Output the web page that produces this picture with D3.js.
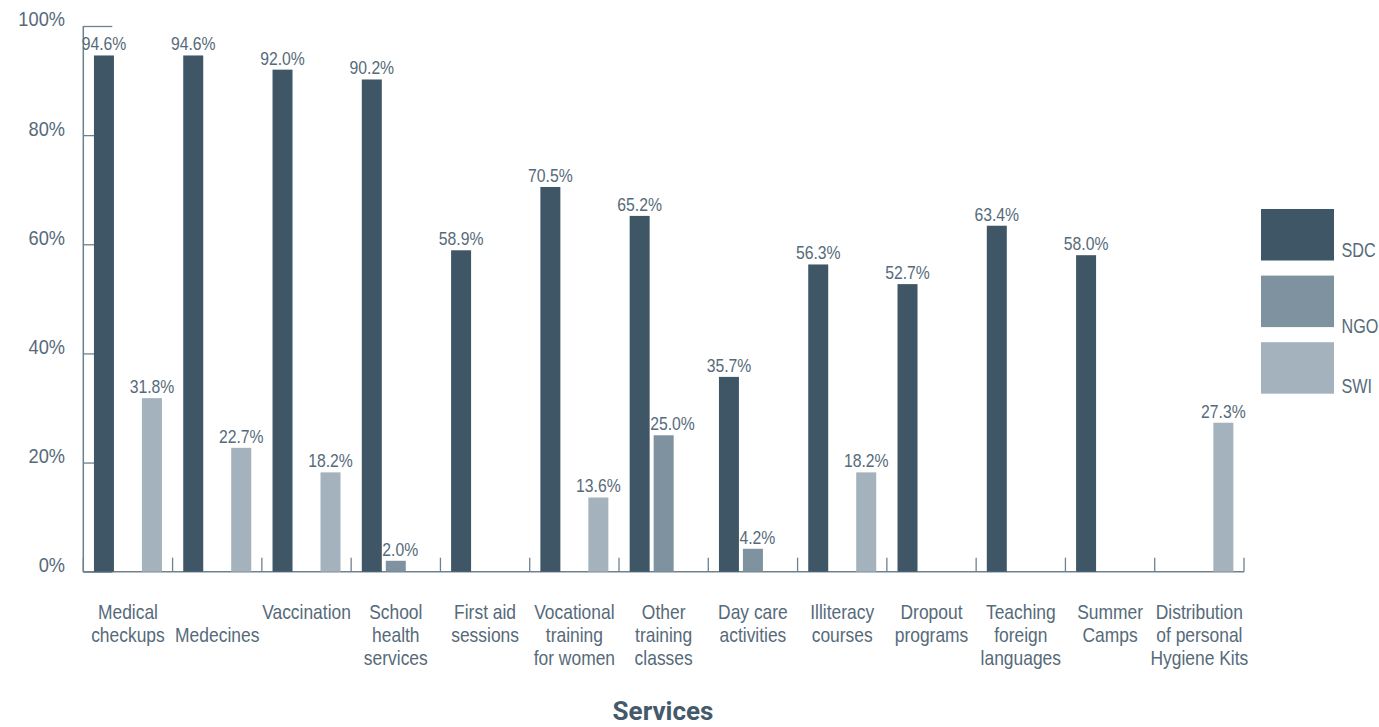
<!DOCTYPE html>
<html>
<head>
<meta charset="utf-8">
<script src="https://cdn.jsdelivr.net/npm/d3@7/dist/d3.min.js"></script>
<style>
  html, body { margin: 0; padding: 0; background: #fff; }
  svg { display: block; }
  .cond { font-family: "Liberation Sans", Arial, sans-serif; }
</style>
</head>
<body>
<svg id="chart" width="1379" height="727"></svg>
<script>
// Services offered, share by provider
const categories = [
  ["Medical", "checkups"],
  ["", "Medecines"],
  ["Vaccination"],
  ["School", "health", "services"],
  ["First aid", "sessions"],
  ["Vocational", "training", "for women"],
  ["Other", "training", "classes"],
  ["Day care", "activities"],
  ["Illiteracy", "courses"],
  ["Dropout", "programs"],
  ["Teaching", "foreign", "languages"],
  ["Summer", "Camps"],
  ["Distribution", "of personal", "Hygiene Kits"]
];
const seriesNames = ["SDC", "NGO", "SWI"];
const sdcValues = [94.6, 94.6, 92.0, 90.2, 58.9, 70.5, 65.2, 35.7, 56.3, 52.7, 63.4, 58.0, null];
const ngoValues = [null, null, null, 2.0, null, null, 25.0, 4.2, null, null, null, null, null];
const swiValues = [31.8, 22.7, 18.2, null, null, 13.6, null, null, 18.2, null, null, null, 27.3];
const yTicks = [0, 20, 40, 60, 80, 100];
const axisTitle = "Services";

const seriesValues = [sdcValues, ngoValues, swiValues];
const colors = ["#3f5667", "#7f929f", "#a3b2bc"];
const textColor = "#566a79";
const axisColor = "#6e818e";

const svg = d3.select("#chart");
const plotLeft = 83.3, plotRight = 1244, plotTop = 26, plotBottom = 571.7;

// narrow text: regular sans squeezed horizontally
const place = (x, y, sx) => `translate(${x},${y}) scale(${sx},1)`;

const x0 = d3.scaleBand().domain(d3.range(categories.length)).range([plotLeft, plotRight]).padding(0);
const x1 = d3.scaleBand().domain(seriesNames).range([0, x0.bandwidth()])
  .paddingInner(4 / 24).paddingOuter(0.444);
const y = d3.scaleLinear().domain([0, 100]).range([plotBottom, plotTop]);

// y axis: inward ticks, labels sit slightly above each tick
const yAxis = svg.append("g").attr("transform", `translate(${plotLeft},0)`)
  .call(d3.axisRight(y).tickValues(yTicks).tickSize(29).tickFormat(""));
yAxis.select(".domain").remove();
yAxis.selectAll("line").attr("stroke", axisColor).attr("stroke-width", 1.3);
svg.append("line").attr("x1", plotLeft).attr("x2", plotLeft).attr("y1", plotTop).attr("y2", plotBottom)
  .attr("stroke", axisColor).attr("stroke-width", 1.5);

svg.append("g").selectAll("text").data(yTicks).join("text")
  .attr("class", "cond")
  .attr("transform", d => place(65, y(d) - 7, 0.89)).attr("dy", "0.36em")
  .attr("text-anchor", "end").attr("font-size", 20.5).attr("fill", textColor)
  .text(d => d + "%");

// x axis baseline with upward ticks at category boundaries
const boundaries = d3.range(categories.length + 1).map(i => plotLeft + i * x0.step());
svg.append("line").attr("x1", plotLeft).attr("x2", plotRight).attr("y1", plotBottom).attr("y2", plotBottom)
  .attr("stroke", axisColor).attr("stroke-width", 1.5);
svg.append("g").selectAll("line").data(boundaries).join("line")
  .attr("x1", d => d).attr("x2", d => d).attr("y1", plotBottom).attr("y2", plotBottom - 14)
  .attr("stroke", axisColor).attr("stroke-width", 1.3);

// bars
const flat = [];
categories.forEach((c, i) => seriesNames.forEach((s, j) => {
  const v = seriesValues[j][i];
  if (v != null) flat.push({ i, s, j, v });
}));

svg.append("g").selectAll("rect").data(flat).join("rect")
  .attr("x", d => x0(d.i) + x1(d.s))
  .attr("width", x1.bandwidth())
  .attr("y", d => y(d.v))
  .attr("height", d => y(0) - y(d.v))
  .attr("fill", d => colors[d.j]);

// value labels; NGO labels are nudged right so they clear the SDC bar beside them
const labelScale = 0.9;
svg.append("g").selectAll("text").data(flat).join("text")
  .attr("class", "cond")
  .attr("text-anchor", "middle").attr("font-size", 17.5).attr("fill", textColor)
  .text(d => d.v.toFixed(1) + "%")
  .attr("transform", function (d) {
    let cx = x0(d.i) + x1(d.s) + x1.bandwidth() / 2;
    if (d.s === "NGO" && sdcValues[d.i] != null) {
      const half = this.getComputedTextLength() * labelScale / 2;
      const sdcRight = x0(d.i) + x1("SDC") + x1.bandwidth();
      cx = Math.max(cx, sdcRight + half + 0.5);
    }
    return place(cx, y(d.v) - 5, labelScale);
  });

// category labels
const catG = svg.append("g").selectAll("text").data(categories).join("text")
  .attr("class", "cond")
  .attr("text-anchor", "middle").attr("font-size", 20.5).attr("fill", textColor)
  .attr("transform", (d, i) => place(x0(i) + x0.bandwidth() / 2, 619, 0.85));
catG.selectAll("tspan").data(d => d).join("tspan")
  .attr("x", 0).attr("y", (d, k) => k * 23).text(d => d);

// axis title
svg.append("text").attr("x", 663).attr("y", 720)
  .attr("text-anchor", "middle")
  .attr("font-family", "Roboto, 'Liberation Sans', sans-serif")
  .attr("font-weight", "bold").attr("font-size", 26).attr("fill", "#44596a")
  .text(axisTitle);

// legend
const legendTextY = [47.7, 57, 51];
const legend = svg.append("g").selectAll("g").data(seriesNames).join("g")
  .attr("transform", (d, i) => `translate(1261,${209 + i * 66.6})`);
legend.append("rect").attr("width", 73).attr("height", 51.5)
  .attr("fill", (d, i) => colors[i]);
legend.append("text").attr("class", "cond")
  .attr("transform", (d, i) => place(80.5, legendTextY[i], 0.83))
  .attr("font-size", 19.5).attr("fill", textColor)
  .text(d => d);
</script>
</body>
</html>
